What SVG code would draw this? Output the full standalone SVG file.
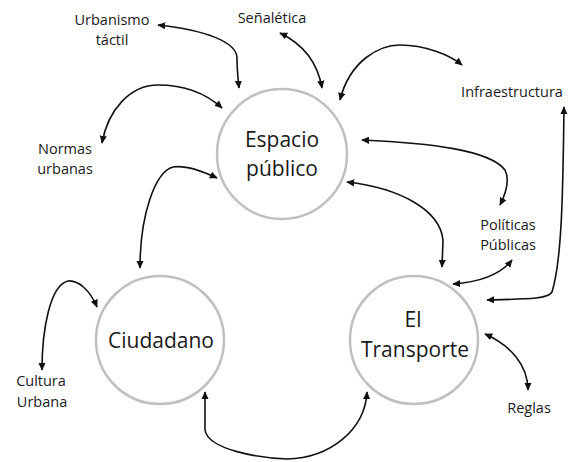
<svg xmlns="http://www.w3.org/2000/svg" width="569" height="462" viewBox="0 0 569 462">
<style>
.node circle{fill:#fff;stroke:#c0c0c0;stroke-width:2.5}
.big{font-family:"Open Sans","Liberation Sans",sans-serif;font-size:21px;fill:#1a1a1a;text-anchor:middle}
.lbl{font-family:"Open Sans","Liberation Sans",sans-serif;font-size:14.5px;fill:#1a1a1a;text-anchor:middle}
.conn path{fill:none;stroke:#111;stroke-width:1.6;marker-start:url(#ah);marker-end:url(#ah)}
</style>
<defs>
<marker id="ah" viewBox="0 0 10 10" refX="9" refY="5" markerWidth="8" markerHeight="8" markerUnits="userSpaceOnUse" orient="auto-start-reverse">
<path d="M0,0.5 L10,5 L0,9.5 Z" fill="#111"/>
</marker>
</defs>
<rect width="569" height="462" fill="#fff"/>
<g id="espacio" class="node">
<circle cx="282" cy="154" r="65"/>
<text class="big" x="282" y="147">Espacio</text>
<text class="big" x="282" y="176">público</text>
</g>
<g id="ciudadano" class="node">
<circle cx="160" cy="340" r="64"/>
<text class="big" x="161" y="348">Ciudadano</text>
</g>
<g id="transporte" class="node">
<circle cx="414" cy="340" r="64"/>
<text class="big" x="413" y="327">El</text>
<text class="big" x="415" y="357">Transporte</text>
</g>
<g id="urbanismo"><text class="lbl" x="112" y="25">Urbanismo</text><text class="lbl" x="112" y="45">táctil</text></g>
<g id="senaletica"><text class="lbl" x="272" y="23">Señalética</text></g>
<g id="infraestructura"><text class="lbl" x="512" y="97">Infraestructura</text></g>
<g id="normas"><text class="lbl" x="65" y="154">Normas</text><text class="lbl" x="65" y="174">urbanas</text></g>
<g id="politicas"><text class="lbl" x="508" y="230">Políticas</text><text class="lbl" x="508" y="250">Públicas</text></g>
<g id="reglas"><text class="lbl" x="529" y="413">Reglas</text></g>
<g id="cultura"><text class="lbl" x="41" y="386">Cultura</text><text class="lbl" x="42" y="407">Urbana</text></g>
<g id="connectors" class="conn">
<path d="M158,25 C205,30 237,42 237,58 C237,70 238,78 239,88"/>
<path d="M222,108 C200,88 175,85 158,85 C130,85 108,110 102,143"/>
<path d="M280,33 C305,45 318,65 322,88"/>
<path d="M340,100 C350,60 380,45 400,45 C425,45 450,55 462,65"/>
<path d="M217,178 C200,170 185,165 173,167 C155,172 140,215 140,268"/>
<path d="M362,140 C430,143 490,150 505,170 C510,180 505,195 500,205"/>
<path d="M347,182 C400,188 440,210 443,240 L442,267"/>
<path d="M453,284 C480,282 500,275 512,260"/>
<path d="M564,107 C563,190 562,260 552,292 C548,299 530,299 487,300"/>
<path d="M485,334 C510,345 528,365 528,390"/>
<path d="M97,307 C90,290 78,280 68,281 C50,285 42,330 42,370"/>
<path d="M205,392 L205,430 C208,450 260,458 287,459 C330,458 365,430 367,392"/>
</g>
</svg>
